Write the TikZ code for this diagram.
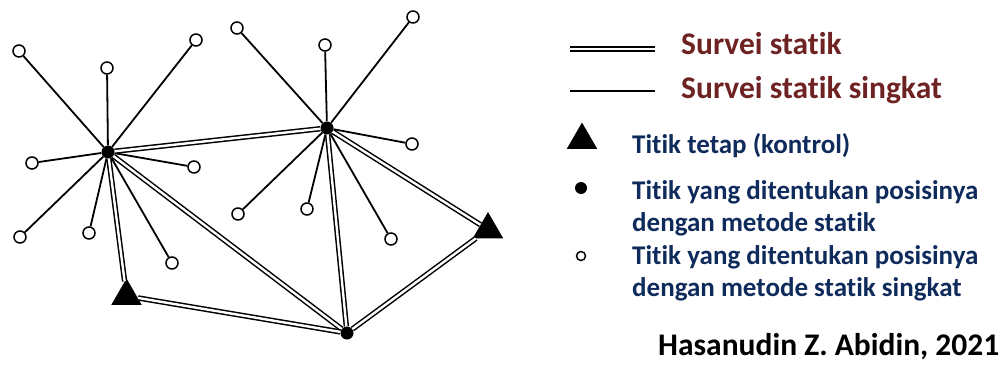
\documentclass[tikz,border=0pt]{standalone}
\usepackage{fontspec}
\setmainfont{Carlito}[Ligatures=NoCommon]
\usetikzlibrary{shapes.geometric}
\definecolor{legred}{HTML}{6E2222}
\definecolor{legblue}{HTML}{0E2B5C}
\tikzset{
  hub/.style={circle,fill=black,inner sep=0pt,minimum size=13pt},
  open/.style={circle,draw=black,line width=1.5pt,fill=white,inner sep=0pt,minimum size=12pt},
  ctrl/.style={regular polygon,regular polygon sides=3,fill=black,inner sep=0pt,minimum size=35pt},
  short/.style={line width=1.8pt},
  static/.style={double=white,line width=1.5pt,double distance=2.4pt},
  redtxt/.style={anchor=base west,inner sep=0pt,text=legred,font=\fontsize{31.5}{34}\selectfont\bfseries},
  bluetxt/.style={anchor=base west,inner sep=0pt,text=legblue,font=\fontsize{27}{30}\selectfont\bfseries},
}
\begin{document}
\begin{tikzpicture}[x=1pt,y=-1pt]
\useasboundingbox (0,0) rectangle (1006,367);
% hubs and control points
\node[hub] (A) at (108,152) {};
\node[hub] (B) at (327,128) {};
\node[hub] (C) at (347,333) {};
\node[ctrl] (T1) at (126.5,296) {};
\node[ctrl] (T2) at (488,229.5) {};
% open points around A
\node[open] (a1) at (19,51) {};
\node[open] (a2) at (107,68) {};
\node[open] (a3) at (196,40) {};
\node[open] (a4) at (32,163) {};
\node[open] (a5) at (194,167) {};
\node[open] (a6) at (20,237) {};
\node[open] (a7) at (89,233) {};
\node[open] (a8) at (172,263) {};
% open points around B
\node[open] (b1) at (237,28) {};
\node[open] (b2) at (325,45) {};
\node[open] (b3) at (413,17) {};
\node[open] (b4) at (412,144) {};
\node[open] (b5) at (238,214) {};
\node[open] (b6) at (307,209) {};
\node[open] (b7) at (391,239) {};
% short static survey lines
\foreach \p in {a1,a2,a3,a4,a5,a6,a7,a8} \draw[short] (A) -- (\p);
\foreach \p in {b1,b2,b3,b4,b5,b6,b7} \draw[short] (B) -- (\p);
% static survey lines
\draw[static] (A) -- (B);
\draw[static] (A) -- (T1);
\draw[static] (A) -- (C);
\draw[static] (B) -- (C);
\draw[static] (B) -- (T2);
\draw[static] (T1) -- (C);
\draw[static] (T2) -- (C);
% legend
\coordinate (l1a) at (570,49);
\coordinate (l1b) at (655,49);
\coordinate (l2a) at (570,91);
\coordinate (l2b) at (655,91);
\draw[static] (l1a) -- (l1b);
\draw[short] (l2a) -- (l2b);
\node[redtxt] (t1) at (681,54) {Survei statik};
\node[redtxt] (t2) at (681,98) {Survei statik singkat};
\node[ctrl] (lt) at (582,140) {};
\node[bluetxt] (t3) at (632,153) {Titik tetap (kontrol)};
\node[hub,minimum size=12pt] (ld) at (581,188) {};
\node[bluetxt] (t4) at (632,199) {Titik yang ditentukan posisinya};
\node[bluetxt] (t5) at (632,231) {dengan metode statik};
\node[open,minimum size=9pt] (lo) at (581,256) {};
\node[bluetxt] (t6) at (632,264) {Titik yang ditentukan posisinya};
\node[bluetxt] (t7) at (632,296) {dengan metode statik singkat};
\node[anchor=base west,inner sep=0pt,font=\fontsize{31.5}{34}\selectfont\bfseries] (t8) at (658,355) {Hasanudin Z. Abidin, 2021};
\end{tikzpicture}
\end{document}
